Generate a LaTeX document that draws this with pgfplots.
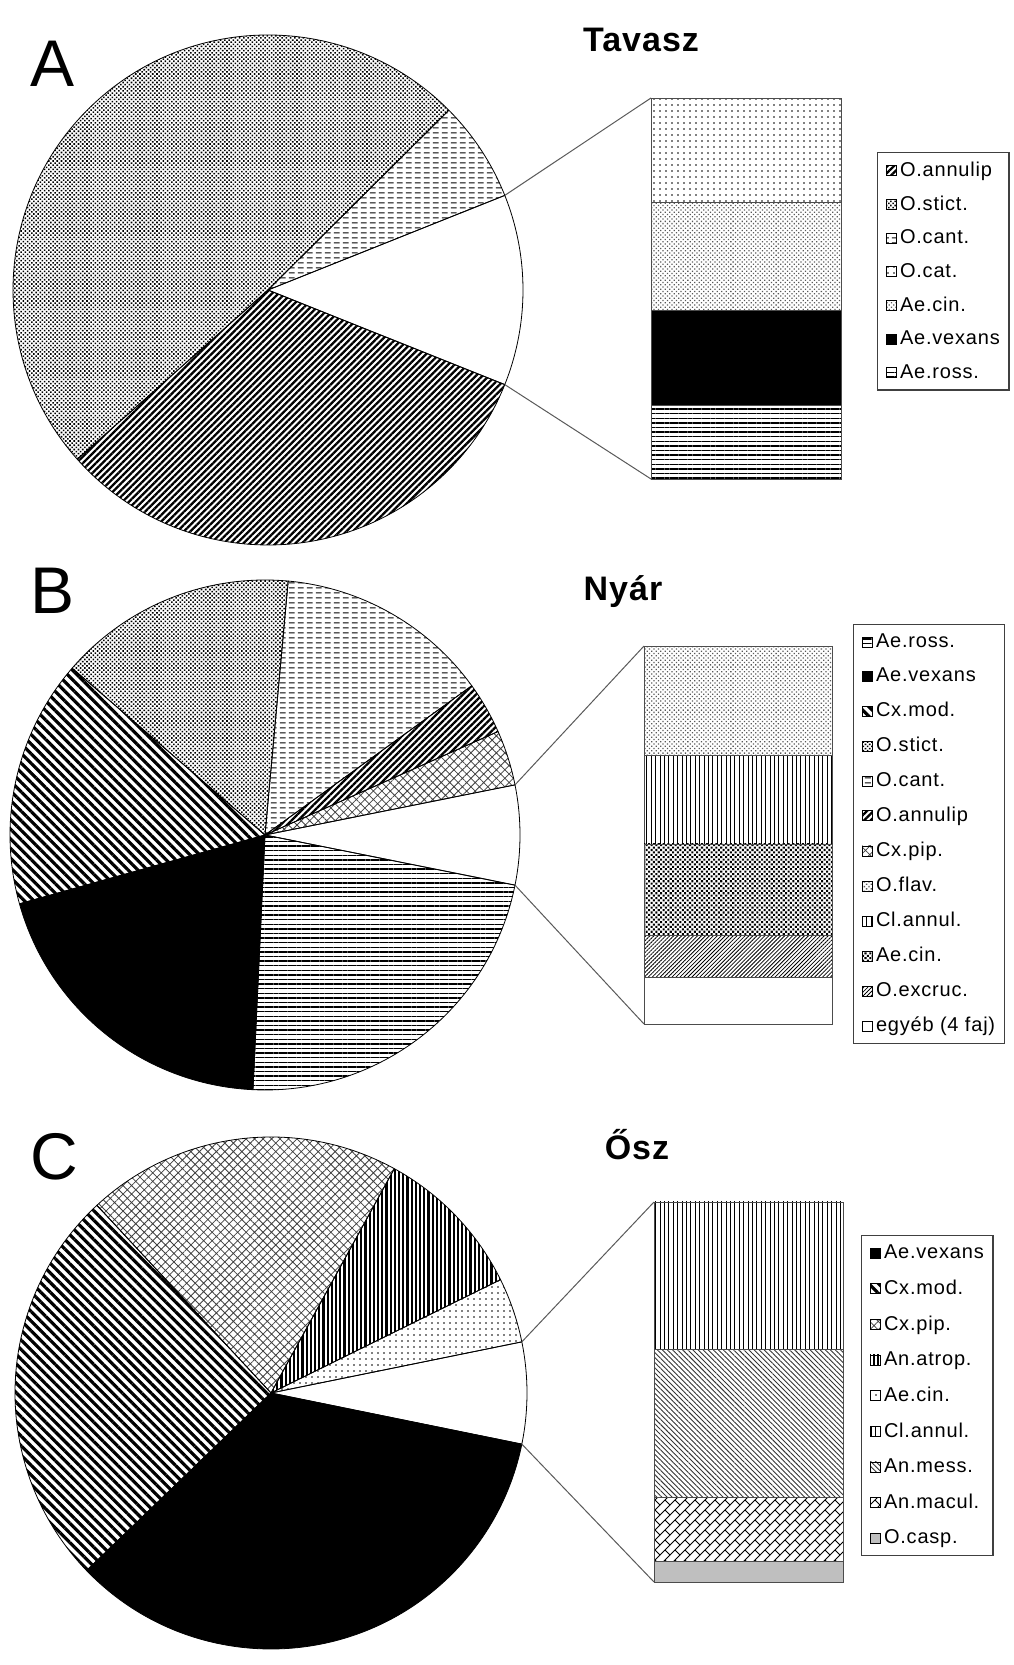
\documentclass[border=0pt]{standalone}
\usepackage{fontspec}
\setmainfont{Liberation Sans}
\newfontfamily\legfont[LetterSpace=4]{Liberation Sans}
\newfontfamily\titfont[LetterSpace=3]{Liberation Sans}
\usepackage{pgfplots}
\pgfplotsset{compat=1.18}
\usetikzlibrary{patterns,patterns.meta}

\pgfdeclarepatternformonly{hdash}{\pgfqpoint{0pt}{0pt}}{\pgfqpoint{4.5pt}{2.5pt}}{\pgfqpoint{4.5pt}{2.5pt}}{%
 \pgfsetlinewidth{0.55pt}%
 \pgfpathmoveto{\pgfqpoint{0.5pt}{1.25pt}}\pgfpathlineto{\pgfqpoint{3.6pt}{1.25pt}}\pgfusepath{stroke}}
\pgfdeclarepatternformonly{brick}{\pgfqpoint{-0.5pt}{-0.5pt}}{\pgfqpoint{5.5pt}{5.5pt}}{\pgfqpoint{5pt}{5pt}}{%
 \pgfsetlinewidth{0.5pt}%
 \pgfpathmoveto{\pgfqpoint{0pt}{0pt}}\pgfpathlineto{\pgfqpoint{5pt}{5pt}}%
 \pgfpathmoveto{\pgfqpoint{2.5pt}{2.5pt}}\pgfpathlineto{\pgfqpoint{5pt}{0pt}}\pgfusepath{stroke}}

\tikzset{
 sWhite/.style={fill=white},
 sBlack/.style={fill=black},
 sGray/.style={fill=black!25},
 sDense/.style={pattern={Dots[distance=1.5pt,radius=0.55pt,angle=45]}},
 sDash/.style={pattern=hdash},
 sNE/.style={pattern={Lines[angle=45,distance=2.3pt,line width=1.15pt]}},
 sNW/.style={pattern={Lines[angle=-45,distance=3.4pt,line width=1.6pt]}},
 sHL/.style={pattern={Lines[angle=0,distance=2.3pt,line width=0.7pt]}},
 sCross/.style={pattern={Hatch[angle=45,distance=3pt,line width=0.4pt]},pattern color=black!75},
 sVThick/.style={pattern={Lines[angle=90,distance=2.1pt,line width=1.1pt]}},
 sSparse/.style={pattern={Dots[distance=3pt,radius=0.4pt]}},
 sGrayDots/.style={pattern={Dots[distance=1.6pt,radius=0.45pt,angle=45]},pattern color=black!65},
 sDarkDots/.style={pattern={Dots[distance=1.7pt,radius=0.72pt,angle=45]}},
 sVL/.style={pattern={Lines[angle=90,distance=2.2pt,line width=0.5pt]}},
 sNEfine/.style={pattern={Lines[angle=45,distance=1.4pt,line width=0.4pt]}},
 sNWfine/.style={pattern={Lines[angle=-45,distance=1.8pt,line width=0.45pt]},pattern color=black!80},
 sBrick/.style={pattern=brick},
}

% #1 radius, #2 value of the "other" slice, #3 slices value/style (counterclockwise, other first), #4 name
\newcommand{\drawpie}[4]{%
 \pgfplotsextra{%
   \pgfmathsetmacro\h{1.8*#2}%
   \xdef\cum{-\h}%
   \foreach \v/\s in {#3}{%
     \pgfmathsetmacro\e{\cum+3.6*\v}%
     \filldraw[\s,draw=black,line width=0.4pt,line join=round] (axis cs:0,0) -- ++(\cum:#1) arc[start angle=\cum,end angle=\e,radius=#1] -- cycle;
     \xdef\cum{\e}%
   }%
   \path (axis cs:0,0) ++(\h:#1) coordinate (#4top);
   \path (axis cs:0,0) ++(-\h:#1) coordinate (#4bot);
 }}

\newcommand\ls{\rule[-2.2pt]{0pt}{9pt}\hspace{1.2pt}}

\pgfplotsset{
 pieax/.style={hide axis, scale only axis, xmin=-1,xmax=1,ymin=-1,ymax=1, anchor=south west, clip=false},
 barax/.style={hide axis, scale only axis, ybar stacked, bar width=1, xmin=-0.5,xmax=0.5, ymin=0,
   clip=false, anchor=south west, reverse legend, legend cell align=left,
   legend image code/.code={\filldraw[##1,draw=black,line width=0.4pt] (0pt,-2.5pt) rectangle (5pt,2.5pt);},
   legend style={anchor=north west, draw=black!75, line width=0.6pt,
     font=\legfont\fontsize{10}{11}\selectfont, inner xsep=4pt, inner ysep=4.5pt,
     nodes={inner xsep=0.6pt, inner ysep=0pt}},
   every axis plot/.append style={draw=black!70, line width=0.45pt}},
}

\begin{document}
\begin{tikzpicture}
\useasboundingbox (0pt,0pt) rectangle (506.5pt,832.5pt);

% ---------------- A : Tavasz ----------------
\begin{axis}[pieax, at={(6.5pt,560pt)}, width=255pt, height=255pt]
\drawpie{127.5pt}{12.1}{12.1/sWhite, 6.4/sDash, 49.1/sDense, 32.4/sNE}{A}
\end{axis}
\begin{axis}[barax, name=barA, at={(325.5pt,593pt)}, width=95pt, height=190.5pt, ymax=12.1,
  legend style={at={(1.1895,0.8583)}, row sep=8.3pt}]
\addplot[sHL] coordinates {(0,2.32)}; \addlegendentry{\ls Ae.ross.}
\addplot[sBlack] coordinates {(0,3.02)}; \addlegendentry{\ls Ae.vexans}
\addplot[sGrayDots] coordinates {(0,3.43)}; \addlegendentry{\ls Ae.cin.}
\addplot[sSparse] coordinates {(0,3.33)}; \addlegendentry{\ls O.cat.}
\addlegendimage{sDash} \addlegendentry{\ls O.cant.}
\addlegendimage{sDense} \addlegendentry{\ls O.stict.}
\addlegendimage{sNE} \addlegendentry{\ls O.annulip}
\end{axis}
\draw[black!65,line width=0.5pt] (Atop) -- (barA.north west) (Abot) -- (barA.south west);
\node[anchor=west,inner sep=0pt,font=\fontsize{33}{36}\selectfont] at (15pt,800.5pt) {A};
\node[anchor=base,inner sep=0pt,font=\titfont\bfseries\fontsize{17}{20}\selectfont] at (320.5pt,806.5pt) {Tavasz};

% ---------------- B : Nyár ----------------
\begin{axis}[pieax, at={(5pt,287.5pt)}, width=255pt, height=255pt]
\drawpie{127.5pt}{6.3}{6.3/sWhite, 3.5/sCross, 3.3/sNE, 13.6/sDash, 15.1/sDense, 15.7/sNW, 19.9/sBlack, 22.6/sHL}{B}
\end{axis}
\begin{axis}[barax, name=barB, at={(322pt,320.5pt)}, width=94pt, height=189pt, ymax=6.3,
  legend style={at={(1.1117,1.0582)}, row sep=8.8pt}]
\addplot[sWhite] coordinates {(0,0.78)}; \addlegendentry{\ls egyéb (4 faj)}
\addplot[sNEfine] coordinates {(0,0.70)}; \addlegendentry{\ls O.excruc.}
\addplot[sDarkDots] coordinates {(0,1.52)}; \addlegendentry{\ls Ae.cin.}
\addplot[sVL] coordinates {(0,1.48)}; \addlegendentry{\ls Cl.annul.}
\addplot[sGrayDots] coordinates {(0,1.82)}; \addlegendentry{\ls O.flav.}
\addlegendimage{sCross} \addlegendentry{\ls Cx.pip.}
\addlegendimage{sNE} \addlegendentry{\ls O.annulip}
\addlegendimage{sDash} \addlegendentry{\ls O.cant.}
\addlegendimage{sDense} \addlegendentry{\ls O.stict.}
\addlegendimage{sNW} \addlegendentry{\ls Cx.mod.}
\addlegendimage{sBlack} \addlegendentry{\ls Ae.vexans}
\addlegendimage{sHL} \addlegendentry{\ls Ae.ross.}
\end{axis}
\draw[black!65,line width=0.5pt] (Btop) -- (barB.north west) (Bbot) -- (barB.south west);
\node[anchor=west,inner sep=0pt,font=\fontsize{33}{36}\selectfont] at (15pt,537pt) {B};
\node[anchor=base,inner sep=0pt,font=\titfont\bfseries\fontsize{17}{20}\selectfont] at (311.5pt,532pt) {Nyár};

% ---------------- C : Ősz ----------------
\begin{axis}[pieax, at={(7.5pt,8pt)}, width=256pt, height=256pt]
\drawpie{128pt}{6.4}{6.4/sWhite, 4.1/sSparse, 9.7/sVThick, 19.9/sCross, 25.3/sNW, 34.6/sBlack}{C}
\end{axis}
\begin{axis}[barax, name=barC, at={(327pt,41.5pt)}, width=94.5pt, height=190pt, ymax=6.4,
  legend style={at={(1.0952,0.913)}, row sep=9.2pt}]
\addplot[sGray] coordinates {(0,0.35)}; \addlegendentry{\ls O.casp.}
\addplot[sBrick] coordinates {(0,1.08)}; \addlegendentry{\ls An.macul.}
\addplot[sNWfine] coordinates {(0,2.49)}; \addlegendentry{\ls An.mess.}
\addplot[sVL] coordinates {(0,2.48)}; \addlegendentry{\ls Cl.annul.}
\addlegendimage{sSparse} \addlegendentry{\ls Ae.cin.}
\addlegendimage{sVThick} \addlegendentry{\ls An.atrop.}
\addlegendimage{sCross} \addlegendentry{\ls Cx.pip.}
\addlegendimage{sNW} \addlegendentry{\ls Cx.mod.}
\addlegendimage{sBlack} \addlegendentry{\ls Ae.vexans}
\end{axis}
\draw[black!65,line width=0.5pt] (Ctop) -- (barC.north west) (Cbot) -- (barC.south west);
\node[anchor=west,inner sep=0pt,font=\fontsize{33}{36}\selectfont] at (15pt,254pt) {C};
\node[anchor=base,inner sep=0pt,font=\titfont\bfseries\fontsize{17}{20}\selectfont] at (318.5pt,252.5pt) {Ősz};
\end{tikzpicture}
\end{document}
